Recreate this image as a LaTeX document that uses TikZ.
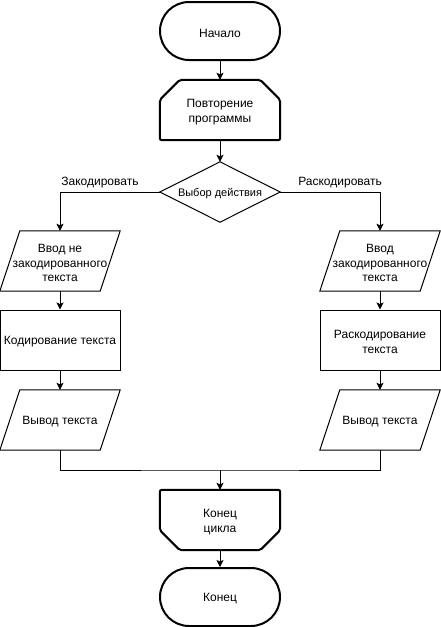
\documentclass[tikz,border=0pt]{standalone}
\usepackage{fontspec}
\setmainfont{Liberation Sans}
\usetikzlibrary{arrows.meta}
\begin{document}
\begin{tikzpicture}[x=1pt,y=-1pt,
  txt/.style={font=\fontsize{12}{14.4}\selectfont, align=center, inner sep=0pt},
  say/.style={label={[txt,yshift=-2pt]center:#1}},
  saysmall/.style={label={[txt,font=\fontsize{11}{13}\selectfont,yshift=-2pt]center:#1}},
  lbl/.style={font=\fontsize{12}{14.4}\selectfont, inner sep=0pt},
  thinline/.style={line width=1pt},
  boldline/.style={line width=2pt},
  conn/.style={line width=1pt, -{Stealth[length=7pt,width=7pt,inset=1.5pt]}},
  plain/.style={line width=1pt},
  term/.style={draw, boldline, rounded corners=29pt, minimum width=120pt, minimum height=58pt, inner sep=0pt},
  proc/.style={draw, thinline, minimum width=120pt, minimum height=60pt, inner sep=0pt},
  box/.style={minimum width=120pt, minimum height=60pt, inner sep=0pt},
]
\useasboundingbox (0,0) rectangle (441,627);
\fill[white] (0,0) rectangle (441,627);

% start terminal
\node[term, say=Начало] (start) at (220,31) {};

% loop start
\node[box, say={Повторение\\программы}] (loop) at (220,110) {};
\draw[boldline, rounded corners=2pt]
  (loop.south west) -- ([yshift=-20pt]loop.north west) -- ([xshift=20pt]loop.north west)
  -- ([xshift=-20pt]loop.north east) -- ([yshift=-20pt]loop.north east)
  -- (loop.south east) -- cycle;

% decision
\node[box, saysmall={Выбор действия}] (dec) at (220,192) {};
\draw[thinline] (dec.west) -- (dec.north) -- (dec.east) -- (dec.south) -- cycle;

% left column
\node[box, say={Ввод не\\закодированного\\текста}] (inL) at (60,261) {};
\draw[thinline] ([xshift=20pt]inL.north west) -- (inL.north east)
  -- ([xshift=-20pt]inL.south east) -- (inL.south west) -- cycle;
\node[proc, say={Кодирование текста}] (enc) at (60,340) {};
\node[box, say={Вывод текста}] (outL) at (60,420) {};
\draw[thinline] ([xshift=20pt]outL.north west) -- (outL.north east)
  -- ([xshift=-20pt]outL.south east) -- (outL.south west) -- cycle;

% right column
\node[box, say={Ввод\\закодированного\\текста}] (inR) at (380,261) {};
\draw[thinline] ([xshift=20pt]inR.north west) -- (inR.north east)
  -- ([xshift=-20pt]inR.south east) -- (inR.south west) -- cycle;
\node[proc, say={Раскодирование\\текста}] (dcd) at (380,340) {};
\node[box, say={Вывод текста}] (outR) at (380,420) {};
\draw[thinline] ([xshift=20pt]outR.north west) -- (outR.north east)
  -- ([xshift=-20pt]outR.south east) -- (outR.south west) -- cycle;

% loop end
\node[box, say={Конец\\цикла}] (lend) at (220,520) {};
\draw[boldline, rounded corners=2pt]
  (lend.north west) -- ([yshift=20pt]lend.south west) -- ([xshift=20pt]lend.south west)
  -- ([xshift=-20pt]lend.south east) -- ([yshift=20pt]lend.south east)
  -- (lend.north east) -- cycle;

% end terminal
\node[term, say=Конец] (stop) at (220,597) {};

% connectors
\draw[conn] (start) -- (loop);
\draw[conn] (loop) -- (dec);
\draw[conn] (dec.west) -| node[lbl, pos=0.3, above=4pt] {Закодировать} (inL.north);
\draw[conn] (dec.east) -| node[lbl, pos=0.3, above=4pt] {Раскодировать} (inR.north);
\draw[conn] (inL) -- (enc);
\draw[conn] (enc) -- (outL);
\draw[conn] (inR) -- (dcd);
\draw[conn] (dcd) -- (outR);
\coordinate (merge) at (220,470);
\draw[plain] (outL.south) |- (merge) -| (outR.south);
\draw[conn] (merge) -- (lend);
\draw[conn] (lend) -- (stop);
\end{tikzpicture}
\end{document}
